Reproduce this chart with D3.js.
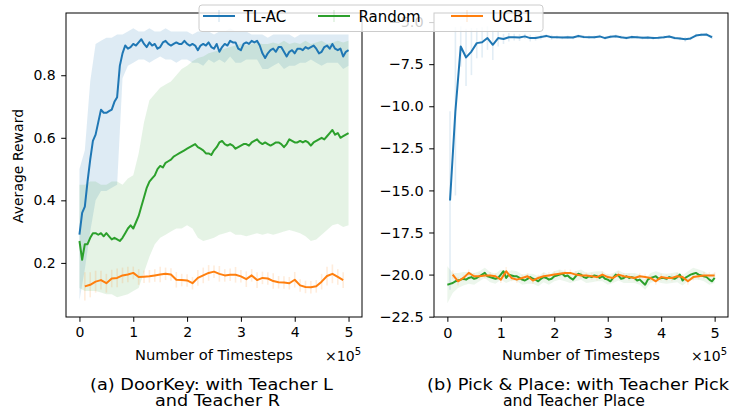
<!DOCTYPE html>
<html>
<head>
<meta charset="utf-8">
<script src="https://cdn.jsdelivr.net/npm/d3@7"></script>
<style>
  body { margin: 0; background: #fff; }
  svg { display: block; }
  text { font-family: "DejaVu Sans", sans-serif; fill: #000; }
</style>
</head>
<body>
<svg id="chart" width="730" height="408"></svg>
<script>
// ---------------- DATA ----------------
const seriesNames = ["TL-AC", "Random", "UCB1"];
const colors = ["#1f77b4", "#2ca02c", "#ff7f0e"];
const xTicks = [0, 1, 2, 3, 4, 5];
const leftYTicks = [0.2, 0.4, 0.6, 0.8];
const rightYTicks = [-22.5, -20.0, -17.5, -15.0, -12.5, -10.0, -7.5, -5.0];

// Panel (a) DoorKey — TL-AC mean, x = 0..5 (×1e5) every 0.05
const doorTLAC = [0.29,0.36,0.38,0.46,0.53,0.59,0.61,0.65,0.69,0.68,0.68,0.685,0.69,0.715,0.73,0.83,0.87,0.895,0.885,0.89,
  0.90,0.895,0.905,0.915,0.90,0.89,0.905,0.895,0.90,0.885,0.89,0.905,0.91,0.90,0.895,0.90,0.905,0.90,0.90,0.91,
  0.90,0.895,0.90,0.895,0.88,0.895,0.90,0.895,0.905,0.89,0.885,0.90,0.875,0.89,0.90,0.895,0.91,0.905,0.905,0.885,
  0.88,0.90,0.905,0.90,0.91,0.905,0.91,0.895,0.87,0.855,0.87,0.88,0.885,0.875,0.89,0.89,0.875,0.86,0.875,0.88,
  0.87,0.885,0.885,0.88,0.89,0.885,0.89,0.895,0.885,0.87,0.875,0.89,0.895,0.885,0.90,0.885,0.88,0.885,0.86,0.875,0.88];
// TL-AC spread (lower / upper), every 0.1
const doorTLACLo = [0.08,0.18,0.30,0.40,0.43,0.43,0.44,0.45,0.79,0.83,0.84,0.85,0.85,0.84,0.85,0.86,0.85,0.85,0.84,0.85,
  0.85,0.84,0.84,0.83,0.85,0.84,0.85,0.84,0.86,0.84,0.84,0.85,0.85,0.85,0.82,0.82,0.83,0.84,0.82,0.83,
  0.83,0.84,0.84,0.85,0.84,0.83,0.84,0.84,0.84,0.82,0.83];
const doorTLACHi = [0.50,0.56,0.78,0.90,0.91,0.92,0.92,0.93,0.93,0.94,0.95,0.94,0.94,0.95,0.94,0.94,0.95,0.94,0.94,0.94,
  0.94,0.93,0.94,0.94,0.94,0.93,0.94,0.94,0.95,0.94,0.94,0.94,0.93,0.93,0.93,0.92,0.93,0.93,0.93,0.93,
  0.92,0.93,0.93,0.93,0.93,0.93,0.93,0.93,0.93,0.93,0.93];
// Random mean, every 0.05
const doorRandom = [0.27,0.21,0.26,0.26,0.28,0.295,0.295,0.29,0.295,0.285,0.295,0.285,0.275,0.28,0.275,0.27,0.28,0.295,0.31,0.32,
  0.31,0.33,0.35,0.38,0.41,0.44,0.46,0.47,0.48,0.50,0.51,0.505,0.52,0.525,0.53,0.54,0.545,0.55,0.555,0.56,
  0.565,0.57,0.575,0.58,0.57,0.565,0.56,0.55,0.55,0.545,0.56,0.57,0.585,0.59,0.58,0.575,0.58,0.575,0.565,0.57,
  0.575,0.58,0.58,0.575,0.585,0.59,0.595,0.585,0.58,0.585,0.58,0.575,0.58,0.585,0.585,0.58,0.57,0.58,0.595,0.59,
  0.585,0.585,0.59,0.585,0.59,0.585,0.575,0.585,0.59,0.595,0.60,0.595,0.605,0.615,0.625,0.61,0.615,0.60,0.605,0.61,0.615];
// Random spread, every 0.1
const doorRandomLo = [0.12,0.11,0.11,0.11,0.105,0.10,0.10,0.09,0.095,0.10,0.11,0.12,0.17,0.22,0.26,0.28,0.29,0.30,0.31,0.31,
  0.32,0.31,0.28,0.27,0.275,0.28,0.29,0.295,0.30,0.29,0.29,0.285,0.29,0.295,0.29,0.295,0.29,0.295,0.30,0.305,
  0.30,0.295,0.285,0.27,0.275,0.29,0.305,0.32,0.325,0.315,0.32];
const doorRandomHi = [0.45,0.45,0.46,0.46,0.45,0.45,0.46,0.46,0.45,0.47,0.48,0.55,0.65,0.72,0.74,0.76,0.77,0.78,0.80,0.82,
  0.83,0.845,0.855,0.86,0.87,0.875,0.88,0.885,0.89,0.895,0.90,0.895,0.90,0.905,0.90,0.90,0.905,0.90,0.91,0.90,
  0.905,0.90,0.91,0.90,0.905,0.91,0.90,0.905,0.91,0.905,0.91];
// UCB1 mean, x = 0.1..4.9 every 0.1, with error
const doorUCB = [0.125,0.13,0.14,0.145,0.135,0.15,0.152,0.16,0.163,0.168,0.155,0.156,0.157,0.16,0.163,0.165,0.163,0.146,0.145,0.144,
  0.135,0.152,0.16,0.168,0.172,0.165,0.16,0.162,0.162,0.157,0.148,0.16,0.145,0.152,0.15,0.142,0.138,0.137,0.135,0.146,
  0.128,0.123,0.122,0.125,0.14,0.158,0.165,0.155,0.145];
const doorUCBErr = [0.045,0.04,0.035,0.03,0.03,0.028,0.03,0.025,0.025,0.02,0.025,0.02,0.02,0.02,0.025,0.02,0.02,0.025,0.02,0.02,
  0.02,0.025,0.025,0.025,0.02,0.025,0.02,0.02,0.025,0.02,0.025,0.02,0.025,0.02,0.02,0.025,0.02,0.02,0.02,0.025,
  0.02,0.02,0.02,0.02,0.025,0.03,0.03,0.025,0.025];

// Panel (b) Pick & Place — TL-AC, x = 0.05..4.95 every 0.1
const pickTLAC = [-15.6,-10.3,-6.45,-7.1,-6.75,-6.25,-6.2,-5.95,-6.35,-5.95,-6.0,-5.9,-5.9,-5.92,-5.85,-5.95,-5.95,-5.88,-5.82,-5.9,
  -5.9,-5.92,-5.9,-5.92,-5.83,-5.88,-5.9,-5.9,-5.85,-5.95,-5.87,-5.84,-5.9,-5.94,-5.88,-5.9,-5.93,-5.92,-5.95,-5.93,
  -5.9,-5.86,-5.95,-5.98,-6.02,-5.97,-5.8,-5.75,-5.74,-5.9];
const pickTLACErr = [5.3,5.0,1.2,1.7,1.4,0.9,0.9,0.7,0.9,0.5,0.3,0.25,0.2,0.2,0.15,0.2,0.15,0.15,0.1,0.15,
  0.1,0.1,0.1,0.1,0.1,0.1,0.1,0.1,0.1,0.1,0.1,0.1,0.1,0.1,0.1,0.1,0.1,0.1,0.1,0.1,
  0.1,0.1,0.1,0.1,0.15,0.1,0.1,0.1,0.1,0.1];
// Random, x = 0..5 every 0.05
const pickRandom = [-20.6,-20.55,-20.5,-20.4,-20.35,-20.3,-20.25,-20.3,-20.2,-20.15,-20.25,-20.2,-20.1,-20.0,-19.9,-20.1,-20.15,-20.2,-20.25,-20.2,
  -20.0,-19.8,-20.2,-20.0,-20.05,-20.1,-20.1,-20.2,-20.3,-20.35,-20.25,-20.15,-20.25,-20.3,-20.4,-20.25,-20.15,-20.2,-20.3,-20.25,
  -20.1,-20.05,-20.0,-19.95,-20.1,-20.05,-20.2,-20.3,-20.1,-19.95,-20.0,-20.15,-20.2,-20.1,-20.15,-20.05,-20.1,-20.2,-20.1,-20.25,
  -20.3,-20.4,-20.2,-20.0,-20.05,-20.25,-20.2,-20.1,-20.2,-20.15,-20.2,-20.35,-20.3,-20.45,-20.6,-20.3,-20.2,-20.15,-20.1,-20.25,
  -20.2,-20.2,-20.25,-20.15,-20.2,-20.25,-20.15,-20.0,-20.35,-20.2,-20.1,-20.0,-19.95,-19.9,-20.0,-20.05,-20.1,-20.15,-20.3,-20.4,-20.2];
// Random spread, every 0.1
const pickRandomErr = [1.1,0.6,0.45,0.4,0.35,0.35,0.3,0.3,0.3,0.3,0.3,0.3,0.3,0.3,0.3,0.3,0.3,0.3,0.3,0.3,
  0.3,0.3,0.3,0.3,0.3,0.3,0.3,0.3,0.3,0.3,0.3,0.3,0.3,0.3,0.3,0.3,0.3,0.3,0.3,0.3,
  0.3,0.3,0.3,0.3,0.3,0.3,0.35,0.3,0.3,0.3,0.3];
// UCB1, x = 0.1..5.0 every 0.1
const pickUCB = [-20.0,-20.4,-20.2,-19.9,-20.1,-20.1,-20.05,-20.05,-20.1,-20.3,-19.8,-20.2,-20.3,-20.2,-20.1,-20.35,-20.2,-20.1,-20.05,-20.0,
  -19.95,-19.9,-19.9,-20.0,-20.05,-20.05,-20.1,-20.15,-20.0,-20.15,-20.2,-20.0,-20.1,-20.15,-20.2,-20.1,-20.15,-20.2,-20.4,-20.15,
  -20.2,-20.2,-20.1,-20.15,-20.4,-20.15,-20.1,-20.05,-20.05,-20.05];
const pickUCBErr = [0.25,0.25,0.2,0.2,0.2,0.2,0.2,0.2,0.2,0.2,0.25,0.2,0.2,0.2,0.2,0.2,0.2,0.2,0.2,0.2,
  0.2,0.2,0.2,0.2,0.2,0.2,0.2,0.2,0.2,0.2,0.2,0.2,0.2,0.2,0.2,0.2,0.2,0.2,0.2,0.2,
  0.2,0.2,0.2,0.2,0.2,0.2,0.2,0.2,0.2,0.2];

const captions = [["(a) DoorKey: with Teacher L", "and Teacher R"], ["(b) Pick & Place: with Teacher Pick", "and Teacher Place"]];
const xLabel = "Number of Timesteps";
const yLabel = "Average Reward";

// ---------------- DRAW ----------------
const svg = d3.select("#chart");
const grid = (start, step, n) => d3.range(n).map(i => +(start + i * step).toFixed(3));

function panel(box, yDomain, yTicks, yFmt) {
  const x = d3.scaleLinear().domain([-0.25, 5.25]).range([box.x0, box.x1]);
  const y = d3.scaleLinear().domain(yDomain).range([box.y1, box.y0]);
  const g = svg.append("g");
  const clipId = "clip" + box.x0;
  svg.append("clipPath").attr("id", clipId).append("rect")
    .attr("x", box.x0).attr("y", box.y0).attr("width", box.x1 - box.x0).attr("height", box.y1 - box.y0);
  const plot = g.append("g").attr("clip-path", `url(#${clipId})`);
  const xa = g.append("g").attr("transform", `translate(0,${box.y1})`)
    .call(d3.axisBottom(x).tickValues(xTicks).tickFormat(d3.format("d")).tickSizeOuter(0).tickSize(4.8).tickPadding(5.5));
  const ya = g.append("g").attr("transform", `translate(${box.x0},0)`)
    .call(d3.axisLeft(y).tickValues(yTicks).tickFormat(yFmt).tickSizeOuter(0).tickSize(4.8).tickPadding(5.5));
  [xa, ya].forEach(a => {
    a.select(".domain").remove();
    a.selectAll("line").attr("stroke", "#000").attr("stroke-width", 1);
    a.selectAll("text").attr("font-size", box.tickFs).attr("font-family", "DejaVu Sans").attr("fill", "#000");
  });
  g.append("rect").attr("x", box.x0).attr("y", box.y0).attr("width", box.x1 - box.x0).attr("height", box.y1 - box.y0)
    .attr("fill", "none").attr("stroke", "#000").attr("stroke-width", 1);
  return {x, y, plot, g};
}

function band(p, xs, lo, hi, color, op) {
  const data = xs.map((d, i) => [d, lo[i], hi[i]]);
  p.plot.append("path").datum(data)
    .attr("d", d3.area().x(d => p.x(d[0])).y0(d => p.y(d[1])).y1(d => p.y(d[2])))
    .attr("fill", color).attr("fill-opacity", op).attr("stroke", "none");
}
function errbars(p, xs, vals, errs, color, op) {
  p.plot.append("g").selectAll("line").data(xs.map((d, i) => [d, vals[i], errs[i]])).join("line")
    .attr("x1", d => p.x(d[0])).attr("x2", d => p.x(d[0]))
    .attr("y1", d => p.y(d[1] - d[2])).attr("y2", d => p.y(d[1] + d[2]))
    .attr("stroke", color).attr("stroke-opacity", op).attr("stroke-width", 1.6);
}
function line(p, xs, vals, color) {
  p.plot.append("path").datum(xs.map((d, i) => [d, vals[i]]))
    .attr("d", d3.line().x(d => p.x(d[0])).y(d => p.y(d[1])))
    .attr("fill", "none").attr("stroke", color).attr("stroke-width", 2).attr("stroke-linejoin", "round");
}

// Panel (a)
const A = panel({x0: 66, x1: 362, y0: 13, y1: 317, tickFs: 14}, [0.027, 0.999], leftYTicks, d3.format(".1f"));
const xs05 = grid(0, 0.05, doorTLAC.length);
const xs10 = grid(0, 0.1, doorTLACLo.length);
band(A, xs10, doorTLACLo, doorTLACHi, colors[0], 0.15);
band(A, xs10, doorRandomLo, doorRandomHi, colors[1], 0.12);
const xsUA = grid(0.1, 0.1, doorUCB.length);
errbars(A, xsUA, doorUCB, doorUCBErr, colors[2], 0.15);
line(A, xs05, doorTLAC, colors[0]);
line(A, xs05, doorRandom, colors[1]);
line(A, xsUA, doorUCB, colors[2]);

// Panel (b)
const B = panel({x0: 434, x1: 728, y0: 13, y1: 317, tickFs: 14.5}, [-22.52, -4.46], rightYTicks, d3.format(".1f"));
const xsTB = grid(0.05, 0.1, pickTLAC.length);
const xsRB = grid(0, 0.05, pickRandom.length);
const xsRB10 = grid(0, 0.1, pickRandomErr.length);
const xsUB = grid(0.1, 0.1, pickUCB.length);
band(B, xsRB10, xsRB10.map((d, i) => pickRandom[i * 2] - pickRandomErr[i]), xsRB10.map((d, i) => pickRandom[i * 2] + pickRandomErr[i]), colors[1], 0.09);
errbars(B, xsTB, pickTLAC, pickTLACErr, colors[0], 0.13);
errbars(B, xsUB, pickUCB, pickUCBErr, colors[2], 0.1);
line(B, xsTB, pickTLAC, colors[0]);
line(B, xsRB, pickRandom, colors[1]);
line(B, xsUB, pickUCB, colors[2]);

// labels
const capSpan = [[[90, 333], [155, 280]], [[427, 729], [503, 645]]];
[A, B].forEach((p, k) => {
  const [x0, x1] = p.x.range();
  const cx = (x0 + x1) / 2;
  p.g.append("text").attr("x", cx).attr("y", 359.5).attr("text-anchor", "middle").attr("font-size", 14.7).text(xLabel);
  const off = p.g.append("text").attr("x", x1 - 1).attr("y", 361).attr("text-anchor", "end").attr("font-size", 14);
  off.append("tspan").text("×10");
  off.append("tspan").attr("dy", -6.5).attr("font-size", 10).text("5");
  captions[k].forEach((t, j) => {
    const [s, e] = capSpan[k][j];
    p.g.append("text").attr("x", s).attr("y", j === 0 ? 389.5 : 405.5).attr("font-size", 16.5)
      .attr("textLength", e - s).attr("lengthAdjust", "spacingAndGlyphs").text(t);
  });
});
svg.append("text").attr("transform", "translate(23,166) rotate(-90)").attr("text-anchor", "middle")
  .attr("font-size", 14).text(yLabel);

// legend
const lg = svg.append("g");
lg.append("rect").attr("x", 199).attr("y", 5).attr("width", 344).attr("height", 26.5).attr("rx", 3)
  .attr("fill", "#fff").attr("fill-opacity", 0.8).attr("stroke", "#cccccc").attr("stroke-width", 1);
const legX = [203, 318, 451];
seriesNames.forEach((name, i) => {
  const lx = legX[i];
  lg.append("line").attr("x1", lx + 16).attr("x2", lx + 16).attr("y1", 10).attr("y2", 22)
    .attr("stroke", colors[i]).attr("stroke-opacity", 0.15).attr("stroke-width", 1.6);
  lg.append("line").attr("x1", lx).attr("x2", lx + 32).attr("y1", 16).attr("y2", 16)
    .attr("stroke", colors[i]).attr("stroke-width", 2);
  lg.append("text").attr("x", lx + 40.5).attr("y", 17).attr("dominant-baseline", "central")
    .attr("font-size", 15).text(name);
});
</script>
</body>
</html>
